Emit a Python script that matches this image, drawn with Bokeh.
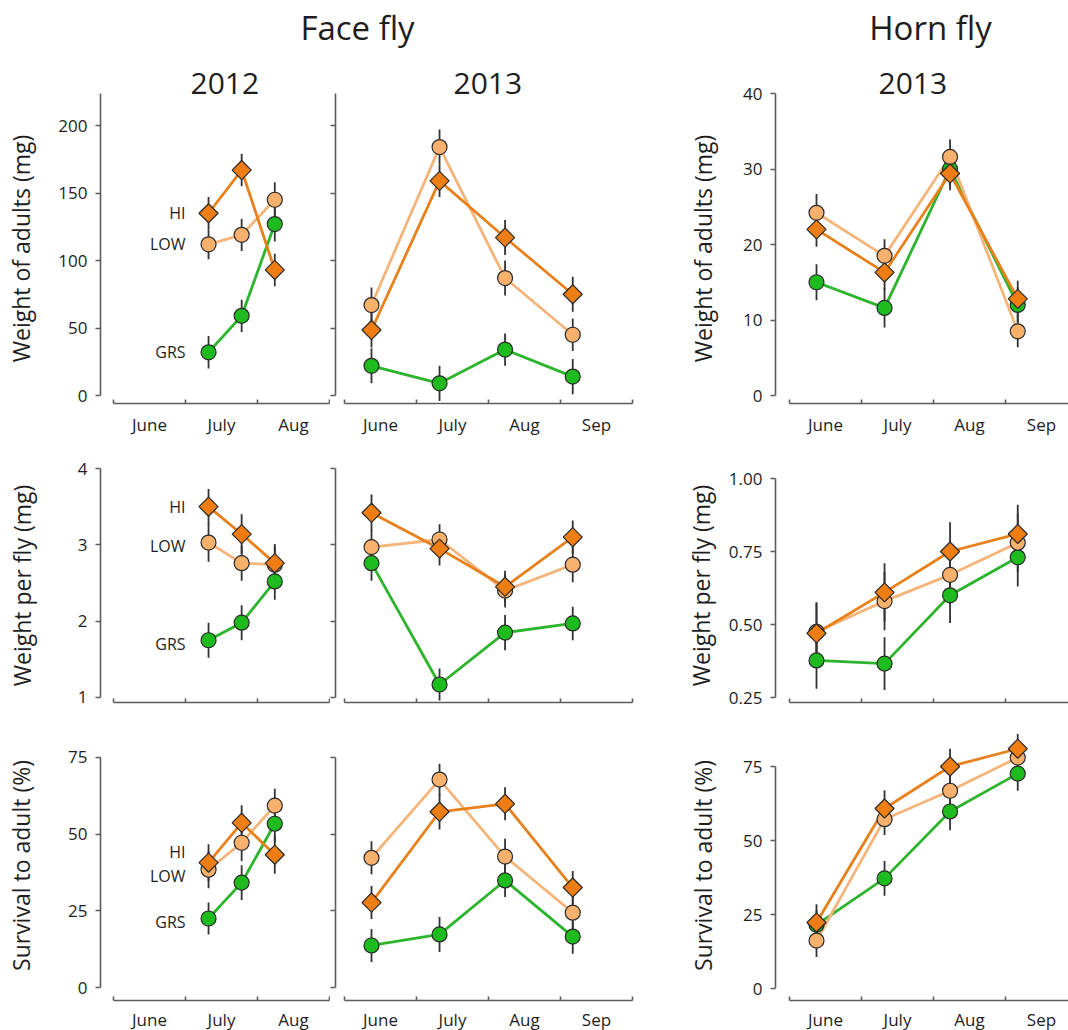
import numpy as np
from bokeh.plotting import figure
from bokeh.models import FixedTicker, Range1d, Title
from bokeh.layouts import column, row
from bokeh.embed import file_html
from bokeh.resources import INLINE
from bokeh.core.properties import value

# ------------------------------------------------------------------ data
groups = ["HI", "LOW", "GRS"]
months_2012 = ["June", "July", "Aug"]
months_2013 = ["June", "July", "Aug", "Sep"]
# sampling dates, in months after 1 June
dates_2012 = [1.32, 1.78, 2.24]
dates_2013 = [0.375, 1.32, 2.23, 3.17]

# Face fly 2012
ff12_wt_hi = [135, 167, 93]
ff12_wt_low = [112, 119, 145]
ff12_wt_grs = [32, 59, 127]
ff12_wt_hi_se = [12, 12, 12]
ff12_wt_low_se = [11, 12, 13]
ff12_wt_grs_se = [12, 12, 13]

ff12_pf_hi = [3.50, 3.14, 2.76]
ff12_pf_low = [3.03, 2.76, 2.74]
ff12_pf_grs = [1.75, 1.98, 2.52]
ff12_pf_hi_se = [0.23, 0.26, 0.25]
ff12_pf_low_se = [0.25, 0.23, 0.24]
ff12_pf_grs_se = [0.23, 0.23, 0.24]

ff12_sv_hi = [40.7, 53.7, 43.3]
ff12_sv_low = [38.4, 47.2, 59.3]
ff12_sv_grs = [22.5, 34.2, 53.4]
ff12_sv_hi_se = [6.0, 5.7, 6.2]
ff12_sv_low_se = [6.0, 6.0, 5.5]
ff12_sv_grs_se = [5.2, 5.7, 6.0]

# Face fly 2013
ff13_wt_hi = [48.5, 159, 117, 75]
ff13_wt_low = [67, 184, 87, 45]
ff13_wt_grs = [22, 9, 34, 14]
ff13_wt_hi_se = [13, 12, 13, 13]
ff13_wt_low_se = [13, 13, 13, 12]
ff13_wt_grs_se = [13, 13, 12, 13]

ff13_pf_hi = [3.42, 2.95, 2.45, 3.10]
ff13_pf_low = [2.97, 3.07, 2.40, 2.74]
ff13_pf_grs = [2.76, 1.17, 1.85, 1.97]
ff13_pf_hi_se = [0.24, 0.22, 0.21, 0.22]
ff13_pf_low_se = [0.22, 0.20, 0.22, 0.23]
ff13_pf_grs_se = [0.23, 0.21, 0.23, 0.22]

ff13_sv_hi = [27.7, 57.3, 59.9, 32.6]
ff13_sv_low = [42.3, 67.8, 42.7, 24.4]
ff13_sv_grs = [13.7, 17.3, 34.9, 16.6]
ff13_sv_hi_se = [5.4, 5.8, 5.4, 5.4]
ff13_sv_low_se = [5.4, 5.2, 5.8, 5.5]
ff13_sv_grs_se = [5.4, 5.7, 5.4, 5.6]

# Horn fly 2013
hf13_wt_hi = [22.0, 16.3, 29.4, 12.8]
hf13_wt_low = [24.2, 18.5, 31.6, 8.5]
hf13_wt_grs = [15.0, 11.6, 30.0, 12.0]
hf13_wt_hi_se = [2.3, 2.3, 2.2, 2.4]
hf13_wt_low_se = [2.5, 2.2, 2.3, 2.1]
hf13_wt_grs_se = [2.4, 2.6, 2.3, 2.3]

hf13_pf_hi = [0.47, 0.61, 0.75, 0.81]
hf13_pf_low = [0.475, 0.58, 0.67, 0.78]
hf13_pf_grs = [0.377, 0.366, 0.60, 0.73]
hf13_pf_hi_se = [0.105, 0.10, 0.10, 0.10]
hf13_pf_low_se = [0.10, 0.10, 0.10, 0.10]
hf13_pf_grs_se = [0.097, 0.09, 0.095, 0.10]

hf13_sv_hi = [22.3, 60.8, 75.0, 81.0]
hf13_sv_low = [16.2, 57.2, 66.8, 78.0]
hf13_sv_grs = [21.5, 37.2, 59.8, 72.6]
hf13_sv_hi_se = [6.2, 6.2, 6.0, 5.0]
hf13_sv_low_se = [5.6, 5.3, 5.5, 5.0]
hf13_sv_grs_se = [5.0, 5.9, 6.3, 5.8]

# y-axis ticks
wt_face_ticks = [0, 50, 100, 150, 200]
wt_horn_ticks = [0, 10, 20, 30, 40]
pf_face_ticks = [1, 2, 3, 4]
pf_horn_ticks = [0.25, 0.50, 0.75, 1.00]
pf_horn_tick_labels = ["0.25", "0.50", "0.75", "1.00"]
sv_ticks = [0, 25, 50, 75]

# ------------------------------------------------------------------ style
FONT = "Open Sans"
TXT = "#1e1e1e"
AX = "#5c5c5c"
ERR = "#333333"
STYLE = {
    "GRS": dict(line="#2cb42c", fill="#1dbb1d", marker="circle", size=15, angle=0.0),
    "LOW": dict(line="#f5b479", fill="#f8b16c", marker="circle", size=15, angle=0.0),
    "HI": dict(line="#e8801c", fill="#ee7d14", marker="square", size=13.5, angle=np.pi / 4),
}
DRAW_ORDER = ["GRS", "LOW", "HI"]


def make_panel(w, h, b_left, b_top, b_bottom, xr, yr, n_months, ybounds,
               yticks, dates, series, months=None, xlab_standoff=9, ylabel=None,
               ylab_standoff=16, show_ylabels=True, ytick_labels=None,
               group_labels_y=None, title=None, title_offset=0):
    p = figure(width=w, height=h, x_range=Range1d(*xr), y_range=Range1d(*yr),
               output_backend="svg", toolbar_location=None, title=None,
               min_border_left=b_left, min_border_right=0,
               min_border_top=b_top, min_border_bottom=b_bottom)
    p.outline_line_color = None
    p.grid.visible = False
    p.background_fill_color = "white"
    p.border_fill_color = "white"

    # x axis: month boundaries as tick marks, month names centred between
    xa = p.xaxis[0]
    bounds_ticks = list(range(n_months + 1))
    if months:
        centers = [i + 0.5 for i in range(n_months)]
        xa.ticker = FixedTicker(ticks=centers, minor_ticks=bounds_ticks)
        xa.major_label_overrides = {c: m for c, m in zip(centers, months)}
        xa.major_label_standoff = xlab_standoff
        xa.major_label_text_font = FONT
        xa.major_label_text_font_size = "17px"
        xa.major_label_text_color = TXT
    else:
        xa.ticker = FixedTicker(ticks=[], minor_ticks=bounds_ticks)
        xa.major_label_standoff = 0
    xa.bounds = (0, n_months)
    xa.axis_line_color = AX
    xa.axis_line_width = 1.6
    xa.major_tick_in = 0
    xa.major_tick_out = 0
    xa.minor_tick_in = 4
    xa.minor_tick_out = 0
    xa.minor_tick_line_color = AX
    xa.minor_tick_line_width = 1.6

    ya = p.yaxis[0]
    ya.bounds = ybounds
    ya.axis_line_color = AX
    ya.axis_line_width = 1.6
    if show_ylabels:
        ya.ticker = FixedTicker(ticks=yticks, minor_ticks=[])
        ya.major_tick_in = 0
        ya.major_tick_out = 5
        ya.major_tick_line_color = AX
        ya.major_tick_line_width = 1.6
        ya.minor_tick_line_color = None
        ya.major_label_text_font = FONT
        ya.major_label_text_font_size = "17px"
        ya.major_label_text_color = TXT
        ya.major_label_standoff = 8
        if ytick_labels:
            ya.major_label_overrides = {t: s for t, s in zip(yticks, ytick_labels)}
    else:
        # tick marks only, no numbers
        ya.ticker = FixedTicker(ticks=[], minor_ticks=yticks)
        ya.major_label_standoff = 0
        ya.minor_tick_in = 0
        ya.minor_tick_out = 5
        ya.minor_tick_line_color = AX
        ya.minor_tick_line_width = 1.6
    if ylabel:
        ya.axis_label = ylabel
        ya.axis_label_text_font = FONT
        ya.axis_label_text_font_size = "23px"
        ya.axis_label_text_font_style = "normal"
        ya.axis_label_text_color = TXT
        ya.axis_label_standoff = ylab_standoff

    # error bars
    for g in DRAW_ORDER:
        vals, se = series[g]
        lo = [v - e for v, e in zip(vals, se)]
        hi = [v + e for v, e in zip(vals, se)]
        p.segment(x0=dates, y0=lo, x1=dates, y1=hi, line_color=ERR, line_width=1.8)
    # connecting lines
    for g in DRAW_ORDER:
        vals, _ = series[g]
        p.line(dates, vals, line_color=STYLE[g]["line"], line_width=2.8)
    # markers
    for g in DRAW_ORDER:
        vals, _ = series[g]
        st = STYLE[g]
        p.scatter(dates, vals, marker=st["marker"], size=st["size"], angle=st["angle"],
                  fill_color=st["fill"], line_color="#2a2a2a", line_width=1.2)

    if group_labels_y is not None:
        p.text(x=[dates[0]] * 3, y=group_labels_y, text=groups, x_offset=-23,
               text_align="right", text_baseline="middle",
               text_font=value(FONT), text_font_size="16px", text_color=TXT)

    if title:
        p.add_layout(Title(text=title, align="left", offset=title_offset, standoff=0,
                           text_font=FONT, text_font_size="30px",
                           text_font_style="normal", text_color=TXT), "above")
    return p


# geometry
W1, W2, W3 = 330, 310, 428
XR1 = (-13 / 72, 217 / 72)
XR2 = (-9 / 72, 296 / 72)
XR3 = (-14 / 72, 279 / 72)
BL1, BL2, BL3 = 100, 5, 135

# row 1 : weight of adults
R1H, R1T, R1B = 390, 43, 37
r1 = row(
    make_panel(W1, R1H, BL1, R1T, R1B, XR1, (-8 / 1.35, 302 / 1.35), 3, (0, 302 / 1.35),
               wt_face_ticks, dates_2012,
               {"HI": (ff12_wt_hi, ff12_wt_hi_se), "LOW": (ff12_wt_low, ff12_wt_low_se),
                "GRS": (ff12_wt_grs, ff12_wt_grs_se)},
               months=months_2012, ylabel="Weight of adults (mg)", ylab_standoff=18,
               group_labels_y=[ff12_wt_hi[0], ff12_wt_low[0], ff12_wt_grs[0]],
               title="2012", title_offset=90),
    make_panel(W2, R1H, BL2, R1T, R1B, XR2, (-8 / 1.35, 302 / 1.35), 4, (0, 302 / 1.35),
               wt_face_ticks, dates_2013,
               {"HI": (ff13_wt_hi, ff13_wt_hi_se), "LOW": (ff13_wt_low, ff13_wt_low_se),
                "GRS": (ff13_wt_grs, ff13_wt_grs_se)},
               months=months_2013, show_ylabels=False, title="2013", title_offset=118),
    make_panel(W3, R1H, BL3, R1T, R1B, XR3, (-8 / 7.55, 40), 4, (0, 40),
               wt_horn_ticks, dates_2013,
               {"HI": (hf13_wt_hi, hf13_wt_hi_se), "LOW": (hf13_wt_low, hf13_wt_low_se),
                "GRS": (hf13_wt_grs, hf13_wt_grs_se)},
               months=months_2013, ylabel="Weight of adults (mg)", ylab_standoff=21,
               title="2013", title_offset=103),
)

# row 2 : weight per fly
R2H, R2T, R2B = 290, 28, 28
r2 = row(
    make_panel(W1, R2H, BL1, R2T, R2B, XR1, (1 - 5 / 76.33, 4), 3, (1, 4),
               pf_face_ticks, dates_2012,
               {"HI": (ff12_pf_hi, ff12_pf_hi_se), "LOW": (ff12_pf_low, ff12_pf_low_se),
                "GRS": (ff12_pf_grs, ff12_pf_grs_se)},
               ylabel="Weight per fly (mg)", ylab_standoff=37,
               group_labels_y=[ff12_pf_hi[0], ff12_pf_low[0] - 0.05, ff12_pf_grs[0] - 0.05]),
    make_panel(W2, R2H, BL2, R2T, R2B, XR2, (1 - 5 / 76.33, 4), 4, (1, 4),
               pf_face_ticks, dates_2013,
               {"HI": (ff13_pf_hi, ff13_pf_hi_se), "LOW": (ff13_pf_low, ff13_pf_low_se),
                "GRS": (ff13_pf_grs, ff13_pf_grs_se)},
               show_ylabels=False),
    make_panel(W3, R2H, BL3, R2T, R2B, XR3, (0.25 - 5 / 292, 1.0 + 10 / 292), 4, (0.25, 1.0),
               pf_horn_ticks, dates_2013,
               {"HI": (hf13_pf_hi, hf13_pf_hi_se), "LOW": (hf13_pf_low, hf13_pf_low_se),
                "GRS": (hf13_pf_grs, hf13_pf_grs_se)},
               ylabel="Weight per fly (mg)", ylab_standoff=9,
               ytick_labels=pf_horn_tick_labels),
)

# row 3 : survival
R3H, R3T, R3B = 305, 0, 35
r3 = row(
    make_panel(W1, R3H, BL1, R3T, R3B, XR1, (-13 / 3.0667, 257 / 3.0667), 3, (0, 75),
               sv_ticks, dates_2012,
               {"HI": (ff12_sv_hi, ff12_sv_hi_se), "LOW": (ff12_sv_low, ff12_sv_low_se),
                "GRS": (ff12_sv_grs, ff12_sv_grs_se)},
               months=months_2012, xlab_standoff=7, ylabel="Survival to adult (%)",
               ylab_standoff=28,
               group_labels_y=[ff12_sv_hi[0] + 3.6, ff12_sv_low[0] - 1.9, ff12_sv_grs[0] - 1.3]),
    make_panel(W2, R3H, BL2, R3T, R3B, XR2, (-13 / 3.0667, 257 / 3.0667), 4, (0, 75),
               sv_ticks, dates_2013,
               {"HI": (ff13_sv_hi, ff13_sv_hi_se), "LOW": (ff13_sv_low, ff13_sv_low_se),
                "GRS": (ff13_sv_grs, ff13_sv_grs_se)},
               months=months_2013, xlab_standoff=7, show_ylabels=False),
    make_panel(W3, R3H, BL3, R3T, R3B, XR3, (-12 / 2.96, 258 / 2.96), 4, (0, 75),
               sv_ticks, dates_2013,
               {"HI": (hf13_sv_hi, hf13_sv_hi_se), "LOW": (hf13_sv_low, hf13_sv_low_se),
                "GRS": (hf13_sv_grs, hf13_sv_grs_se)},
               months=months_2013, xlab_standoff=7, ylabel="Survival to adult (%)",
               ylab_standoff=21),
)

# header with species names
HH = 50
header = figure(width=1068, height=HH, x_range=Range1d(0, 1068), y_range=Range1d(0, HH),
                output_backend="svg", toolbar_location=None, title=None,
                x_axis_location=None, y_axis_location=None,
                min_border_left=0, min_border_right=0, min_border_top=0, min_border_bottom=0)
header.grid.visible = False
header.outline_line_color = None
header.text(x=[357, 930], y=[HH - 27, HH - 27], text=["Face fly", "Horn fly"],
            text_align="center", text_baseline="middle",
            text_font=value(FONT), text_font_size="33px", text_color=TXT)

layout = column(header, r1, r2, r3)
open("out.html", "w").write(file_html(layout, INLINE))
